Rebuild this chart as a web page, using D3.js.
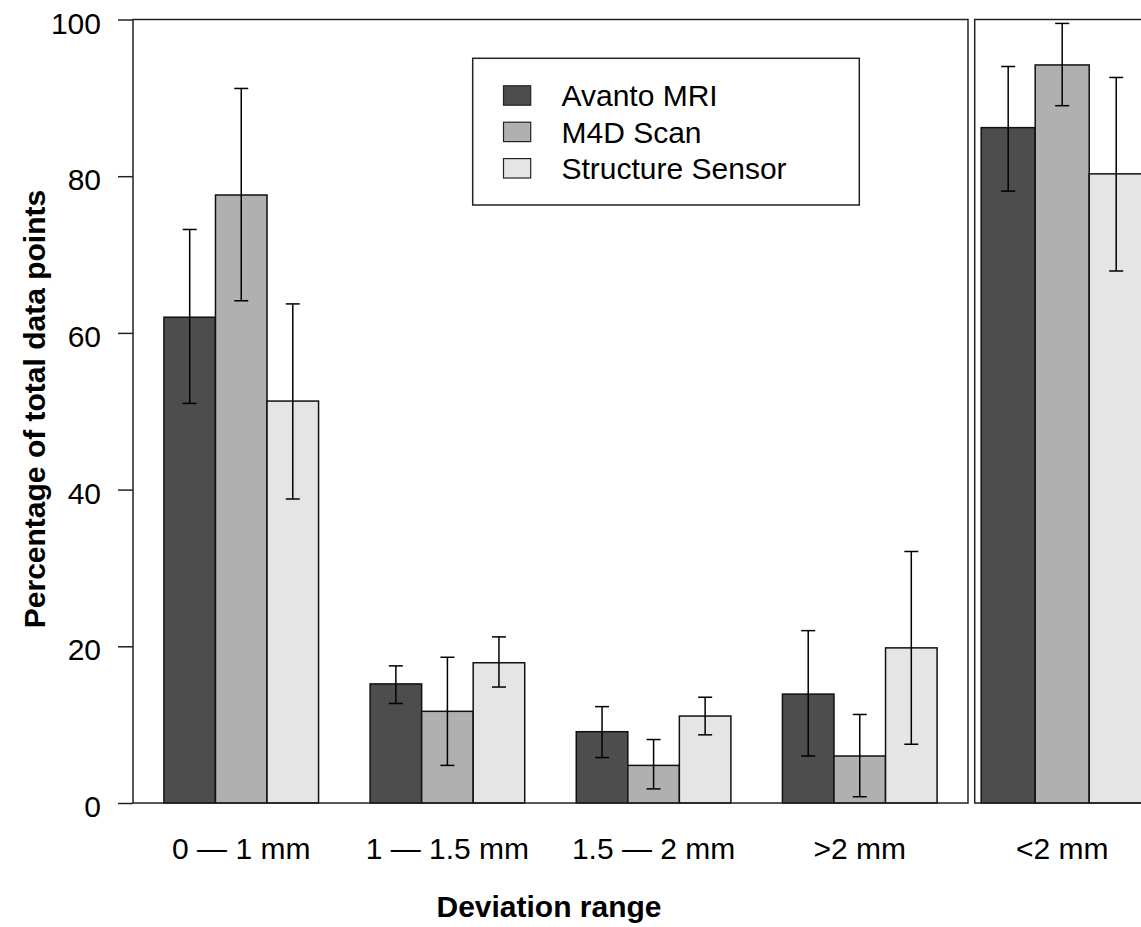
<!DOCTYPE html>
<html>
<head>
<meta charset="utf-8">
<script src="https://cdn.jsdelivr.net/npm/d3@7"></script>
<style>
  html, body { margin: 0; padding: 0; background: #fff; }
  svg { display: block; }
  text { font-family: "Liberation Sans", Arial, sans-serif; fill: #000; }
</style>
</head>
<body>
<svg id="chart" width="1141" height="927"></svg>
<script>
// ---------- data ----------
const categories = ["0 \u2014 1 mm", "1 \u2014 1.5 mm", "1.5 \u2014 2 mm", ">2 mm"];
const seriesNames = ["Avanto MRI", "M4D Scan", "Structure Sensor"];
const seriesColors = ["#4D4D4D", "#B0B0B0", "#E5E5E5"];

const avantoMean = [62.0, 15.2, 9.1, 13.9];
const avantoLow  = [51.0, 12.7, 5.8, 6.0];
const avantoHigh = [73.2, 17.5, 12.3, 22.0];

const m4dMean = [77.6, 11.7, 4.8, 6.0];
const m4dLow  = [64.1, 4.8, 1.8, 0.8];
const m4dHigh = [91.2, 18.6, 8.1, 11.3];

const structureMean = [51.3, 17.9, 11.1, 19.8];
const structureLow  = [38.8, 14.8, 8.7, 7.5];
const structureHigh = [63.7, 21.2, 13.5, 32.1];

const summaryCategory = ["<2 mm"];
const summaryMean = [86.2, 94.2, 80.3];
const summaryLow  = [78.1, 89.0, 67.9];
const summaryHigh = [94.0, 99.5, 92.6];

const yTicks = [0, 20, 40, 60, 80, 100];
const xLabel = "Deviation range";
const yLabel = "Percentage of total data points";

// ---------- build ----------
const means = [avantoMean, m4dMean, structureMean];
const lows  = [avantoLow, m4dLow, structureLow];
const highs = [avantoHigh, m4dHigh, structureHigh];

const mainBars = [];
categories.forEach((c, i) => {
  seriesNames.forEach((s, j) => {
    mainBars.push({cat: c, gi: i, si: j, v: means[j][i], lo: lows[j][i], hi: highs[j][i]});
  });
});
const sumBars = seriesNames.map((s, j) => ({cat: summaryCategory[0], gi: 0, si: j, v: summaryMean[j], lo: summaryLow[j], hi: summaryHigh[j]}));

const svg = d3.select("#chart");
const y = d3.scaleLinear().domain([0, 100]).range([803, 19.5]);

// panel geometry (R barplot style: each group 3 bars + 1 gap, 4% padding)
const leftPanel = {x0: 133, x1: 968};
const rightPanel = {x0: 974.7, x1: 1149.7};
const xL = d3.scaleLinear().domain([0.4, 16.6]).range([leftPanel.x0, leftPanel.x1]);
const xR = d3.scaleLinear().domain([0.88, 4.12]).range([rightPanel.x0, rightPanel.x1]);
const posL = d => 1 + d.gi * 4 + d.si;
const posR = d => 1 + d.si;

function drawBars(g, data, xs, pos) {
  g.selectAll("rect.bar").data(data).join("rect")
    .attr("class", "bar")
    .attr("x", d => xs(pos(d)))
    .attr("width", d => xs(pos(d) + 1) - xs(pos(d)))
    .attr("y", d => y(d.v))
    .attr("height", d => y(0) - y(d.v))
    .attr("fill", d => seriesColors[d.si])
    .attr("stroke", "#111")
    .attr("stroke-width", 1.5);
  const eb = g.selectAll("g.err").data(data).join("g").attr("class", "err")
    .attr("stroke", "#000").attr("stroke-width", 1.5);
  const cx = d => xs(pos(d) + 0.5);
  eb.append("line").attr("x1", cx).attr("x2", cx).attr("y1", d => y(d.lo)).attr("y2", d => y(d.hi));
  eb.append("line").attr("x1", d => cx(d) - 7).attr("x2", d => cx(d) + 7).attr("y1", d => y(d.lo)).attr("y2", d => y(d.lo));
  eb.append("line").attr("x1", d => cx(d) - 7).attr("x2", d => cx(d) + 7).attr("y1", d => y(d.hi)).attr("y2", d => y(d.hi));
}

const gL = svg.append("g");
drawBars(gL, mainBars, xL, posL);
const gR = svg.append("g");
drawBars(gR, sumBars, xR, posR);

// frames
svg.append("rect").attr("x", leftPanel.x0).attr("y", y(100)).attr("width", leftPanel.x1 - leftPanel.x0).attr("height", y(0) - y(100))
  .attr("fill", "none").attr("stroke", "#222").attr("stroke-width", 1.5);
svg.append("rect").attr("x", rightPanel.x0).attr("y", y(100)).attr("width", rightPanel.x1 - rightPanel.x0).attr("height", y(0) - y(100))
  .attr("fill", "none").attr("stroke", "#222").attr("stroke-width", 1.5);

// y axis
const yAxis = d3.axisLeft(y).tickValues(yTicks).tickSize(15).tickPadding(17).tickFormat(d3.format("d"));
const ga = svg.append("g").attr("transform", `translate(${leftPanel.x0},0)`).call(yAxis);
ga.select(".domain").remove();
ga.selectAll(".tick line").attr("stroke", "#222").attr("stroke-width", 1.5);
ga.selectAll(".tick text").attr("font-size", 30).attr("font-family", "Liberation Sans, Arial, sans-serif").attr("fill", "#000").attr("dy", "0.45em");

// x category labels
svg.selectAll("text.xcat").data(categories).join("text")
  .attr("class", "xcat")
  .attr("x", (c, i) => xL(1 + i * 4 + 1.5))
  .attr("y", 859)
  .attr("text-anchor", "middle")
  .attr("font-size", 30)
  .text(c => c);
svg.append("text")
  .attr("x", xR(2.5)).attr("y", 859)
  .attr("text-anchor", "middle").attr("font-size", 30)
  .text(summaryCategory[0]);

// axis titles
svg.append("text")
  .attr("x", 549).attr("y", 917)
  .attr("text-anchor", "middle").attr("font-size", 30).attr("font-weight", "bold")
  .text(xLabel);
svg.append("text")
  .attr("transform", "translate(45,409) rotate(-90)")
  .attr("text-anchor", "middle").attr("font-size", 30).attr("font-weight", "bold")
  .text(yLabel);

// legend
const lg = svg.append("g");
lg.append("rect").attr("x", 472.7).attr("y", 58.3).attr("width", 386.6).attr("height", 146.7)
  .attr("fill", "#fff").attr("stroke", "#222").attr("stroke-width", 1.5);
const items = lg.selectAll("g.item").data(seriesNames).join("g").attr("class", "item")
  .attr("transform", (d, i) => `translate(0,${95.5 + i * 36.4})`);
items.append("rect").attr("x", 503.5).attr("y", -9.7).attr("width", 27.2).attr("height", 19.4)
  .attr("fill", (d, i) => seriesColors[i]).attr("stroke", "#222").attr("stroke-width", 1.2);
items.append("text").attr("x", 561.5).attr("y", 0).attr("dy", "0.36em").attr("font-size", 30).text(d => d);
</script>
</body>
</html>
